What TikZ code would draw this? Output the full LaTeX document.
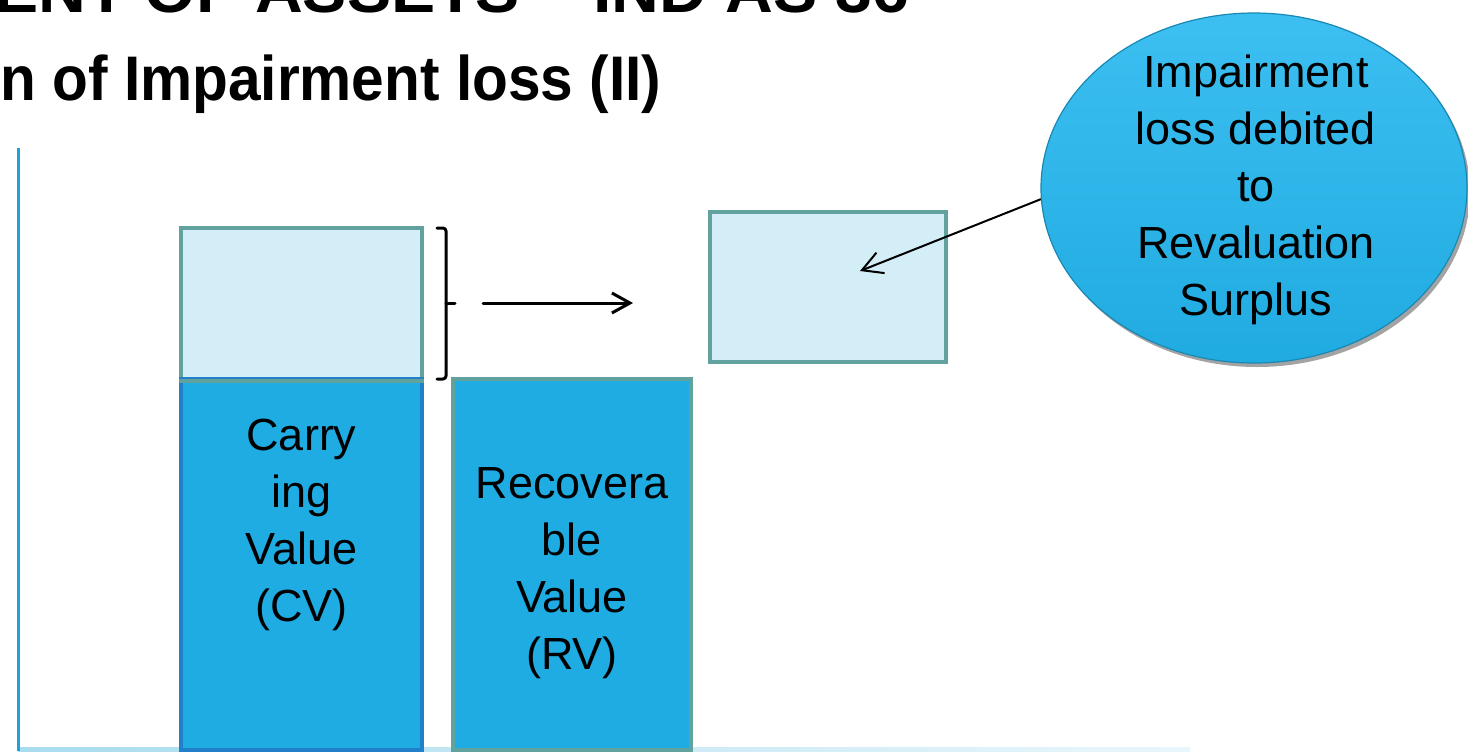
\documentclass[tikz,border=0pt]{standalone}
\usepackage{fontspec}
\setmainfont{Liberation Sans}
\usetikzlibrary{arrows.meta,shadows,shapes.geometric}
\definecolor{lightfill}{HTML}{D4EEF8}
\definecolor{tealedge}{HTML}{61A29F}
\definecolor{darkfill}{HTML}{1FACE3}
\definecolor{cvedge}{HTML}{2180C9}
\definecolor{axisblue}{HTML}{1DA3DB}
\definecolor{axislight}{HTML}{A8DCEF}
\definecolor{ovalfill}{HTML}{22B6EF}
\begin{document}
\begin{tikzpicture}[x=0.5pt,y=-0.5pt,
  lightbox/.style={rectangle, fill=lightfill, draw=tealedge, line width=2pt, inner sep=0pt},
  darkbox/.style={rectangle, fill=darkfill, line width=1.6pt, inner sep=0pt},
  bodytext/.style={align=center, inner sep=0pt, font=\fontsize{22.5pt}{28.5pt}\selectfont},
  titletext/.style={inner sep=0pt, font=\fontsize{31.5pt}{36pt}\selectfont\bfseries},
  blackline/.style={line width=1.5pt, line cap=round, line join=round},
  barb/.style={-{Straight Barb[length=9pt,width=10pt,line width=1.5pt]}}
]
\useasboundingbox (0,0) rectangle (1468,751);
\clip (0,0) rectangle (1468,751);

% title (cut off by the frame)
\node[titletext, anchor=base east] (title1) at (910,12) {\scalebox{1.05}[1]{ENT OF ASSETS – IND AS 36}};
\node[titletext, anchor=base west] (title2) at (0,100) {\scalebox{0.93}[1]{n of Impairment loss (II)}};

% axes
\shade[left color=axislight, right color=axislight!25] (18,747) rectangle (1190,751);
\fill[axisblue] (16.5,148) rectangle (19.5,751);

% bars
\node[lightbox, minimum width=120.5pt, minimum height=75.5pt] (cvtop) at (301.5,303.5) {};
\node[darkbox, draw=cvedge, minimum width=120.5pt, minimum height=185.5pt] (cv) at (301.5,564.5) {};
\draw[tealedge, line width=2pt] (cvtop.south west) -- (cvtop.south east);
\node[bodytext] (cvtext) at (301.5,525) {Carry\\ing\\Value\\(CV)};

\node[darkbox, draw=tealedge, minimum width=119pt, minimum height=185.5pt] (rv) at (572,564.5) {};
\node[bodytext] (rvtext) at (572,573.5) {Recovera\\ble\\Value\\(RV)};

\node[lightbox, minimum width=118pt, minimum height=75pt] (loss) at (828,287) {};

% bracket and arrow
\draw[blackline, rounded corners=1.5pt] (437,228) -- (446,228) -- (446,379) -- (437,379);
\coordinate (bmid) at (446,303);
\coordinate (btip) at (455,303);
\draw[blackline] (bmid) -- (btip);
\coordinate (a1) at (483,303);
\coordinate (a2) at (633,303);
\draw[blackline, barb] (a1) -- (a2);

% callout oval
\node[ellipse, minimum width=213pt, minimum height=175pt, inner sep=0pt,
      top color=ovalfill!88!white, bottom color=ovalfill!94!black,
      draw=ovalfill!75!black, line width=0.6pt,
      drop shadow={shadow xshift=1.5pt, shadow yshift=-2pt, opacity=0.45, fill=black!80}] (oval) at (1254,188) {};
\node[bodytext] (ovaltext) at (1256,190) {Impairment\\loss debited\\to\\Revaluation\\Surplus};

\coordinate (tgt) at (860,271);
\draw[line width=1pt, -{Straight Barb[length=10pt,width=11pt,line width=1pt]}] (oval.183) -- (tgt);
\end{tikzpicture}
\end{document}
